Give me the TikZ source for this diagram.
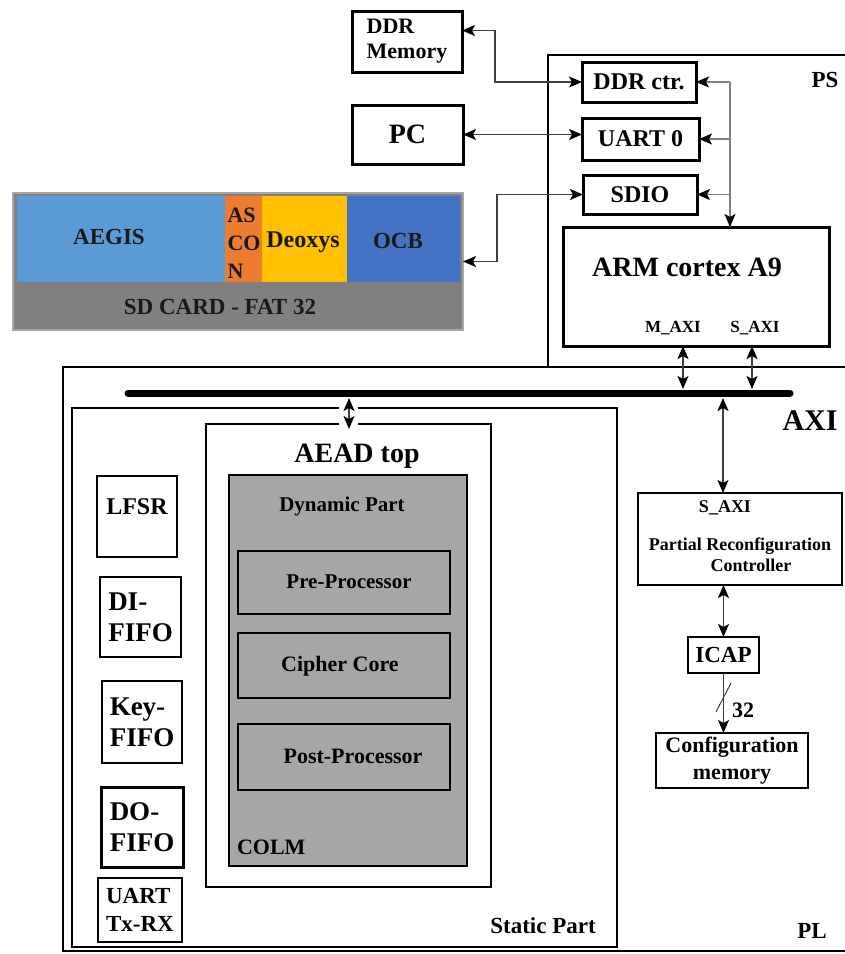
\documentclass[tikz,border=0pt]{standalone}
\usepackage{fontspec}
\setmainfont{Liberation Serif}
\usetikzlibrary{arrows.meta,calc}
\definecolor{aegisc}{HTML}{5B9BD5}
\definecolor{asconc}{HTML}{ED7D31}
\definecolor{deoxysc}{HTML}{FFC000}
\definecolor{ocbc}{HTML}{4472C4}
\definecolor{sdgray}{HTML}{808080}
\definecolor{dyngray}{HTML}{A6A6A6}
\tikzset{
  tipA/.tip={Stealth[length=13pt,width=11pt,inset=3pt,color=black]}
}
\begin{document}
\begin{tikzpicture}[x=1pt,y=-1pt,
  every node/.style={inner sep=0pt, outer sep=0pt},
  box/.style={draw, line width=#1, fill=white},
  box/.default=1pt,
  band/.style={fill=#1, draw=none},
  ft/.style={font=\fontsize{#1}{#1}\selectfont\bfseries},
  conn/.style={draw=black!75, line width=1.4pt},
  bi/.style={conn, tipA-tipA},
  uni/.style={conn, -tipA}
]
\useasboundingbox (0,0) rectangle (845,954);

% ---------- PS and PL regions ----------
\draw[line width=1.5pt] (846,55) -- (548,55) -- (548,367);
\draw[line width=1.5pt] (846,367) -- (63,367) -- (63,951) -- (846,951);
\node[ft=23] (pslbl) at (825,80) {PS};
\node[ft=23] (pllbl) at (812,931) {PL};

% ---------- external boxes ----------
\node[box=3pt, minimum width=110pt, minimum height=61pt, align=left, font=\fontsize{22}{25}\selectfont\bfseries] (ddrmem) at (407,41.5) {DDR\\Memory};
\node[box=3pt, minimum width=111pt, minimum height=59pt, ft=28] (pc) at (407.5,134.5) {PC};

% ---------- SD card ----------
\node[draw=black!35, line width=1.5pt, fill=sdgray, minimum width=450pt, minimum height=137pt] (sd) at (238,261.5) {};
\node[band=aegisc, minimum width=208pt, minimum height=86pt] (aegis) at (121,239) {};
\node[band=asconc, minimum width=37pt, minimum height=86pt] (ascon) at (243.5,239) {};
\node[band=deoxysc, minimum width=85pt, minimum height=86pt] (deoxys) at (304.5,239) {};
\node[band=ocbc, minimum width=113pt, minimum height=86pt] (ocb) at (403.5,239) {};
\node[ft=23, text=black!90] (aegist) at (109,237) {AEGIS};
\node[align=left, font=\fontsize{22}{28}\selectfont\bfseries, text=black!90] (ascont) at (244,243) {AS\\CO\\N};
\node[ft=24, text=black!90] (deoxyst) at (303,242) {Deoxys};
\node[ft=23, text=black!90] (ocbt) at (398,241) {OCB};
\node[ft=23, text=black!90] (sdt) at (220,307) {SD CARD - FAT 32};

% ---------- PS internals ----------
\node[box=3pt, minimum width=114pt, minimum height=40pt, ft=24] (ddrctr) at (639,82) {DDR ctr.};
\node[box=3pt, minimum width=117pt, minimum height=42pt, ft=24] (uart0) at (640.5,139) {UART 0};
\node[box=3pt, minimum width=114pt, minimum height=39pt, ft=24] (sdio) at (640,194.5) {SDIO};
\node[box=3pt, minimum width=266pt, minimum height=119pt] (arm) at (696,286.5) {};
\node[ft=28] (armt) at (687,267) {ARM cortex A9};
\node[ft=17] (maxi) at (673,328) {M\_AXI};
\node[ft=17] (saxi) at (755,328) {S\_AXI};

\coordinate (vbx) at (730,0);
\coordinate (ddrbend) at (495,0);
\coordinate (sdbend) at (497,0);

% connectors outside / PS
\draw[bi] ([yshift=11pt]ddrmem.east) -| (ddrbend |- ddrctr.west) -- (ddrctr.west);
\draw[bi] (pc.east) -- (pc.east -| uart0.west);
\draw[bi] (sd.east) -| (sdbend |- sdio.west) -- (sdio.west);
\draw[conn,draw=black!50] (ddrctr.east -| vbx) -- (arm.north -| vbx);
\draw[uni,draw=black!50] (ddrctr.east -| vbx) -- (ddrctr.east);
\draw[uni,draw=black!50] (uart0.east -| vbx) -- (uart0.east);
\draw[uni,draw=black!50] (sdio.east -| vbx) -- (sdio.east);
\draw[uni,draw=black!50] (sdio.east -| vbx) -- (arm.north -| vbx);

% ---------- PL ----------
\node[box=1.2pt, minimum width=545pt, minimum height=539pt] (static) at (344.5,677.5) {};
\node[ft=23] (statict) at (543,926) {Static Part};

\node[box=1.2pt, minimum width=285pt, minimum height=463pt] (aead) at (348.5,655.5) {};
\node[ft=28] (aeadt) at (357,456) {AEAD top};
\node[draw, line width=1.2pt, fill=dyngray, minimum width=238pt, minimum height=391pt] (dyn) at (348,670.5) {};
\node[ft=21] (dynt) at (342,506) {Dynamic Part};
\node[draw, line width=1.2pt, fill=dyngray, minimum width=212pt, minimum height=63pt] (pre) at (344,582.5) {};
\node[ft=21] (pret) at (349,582) {Pre-Processor};
\node[draw, line width=1.2pt, fill=dyngray, minimum width=212pt, minimum height=65pt] (ciph) at (344,665.5) {};
\node[ft=22] (cipht) at (340,666) {Cipher Core};
\node[draw, line width=1.2pt, fill=dyngray, minimum width=212pt, minimum height=66pt] (post) at (344,757) {};
\node[ft=22] (postt) at (353,756) {Post-Processor};
\node[ft=22, anchor=west] (colm) at (237,847) {COLM};

\node[box=2pt, minimum width=80pt, minimum height=81pt] (lfsr) at (137,516.5) {};
\node[ft=24] (lfsrt) at (137,507) {LFSR};
\node[box=2.5pt, minimum width=81pt, minimum height=80pt, align=left, font=\fontsize{27}{31}\selectfont\bfseries] (difi) at (140.5,617) {DI-\\FIFO};
\node[box=2.5pt, minimum width=80pt, minimum height=82pt, align=left, font=\fontsize{27}{31}\selectfont\bfseries] (keyfi) at (142,722) {Key-\\FIFO};
\node[box=3pt, minimum width=82pt, minimum height=80pt, align=left, font=\fontsize{27}{31}\selectfont\bfseries] (dofi) at (142,827) {DO-\\FIFO};
\node[box=1.5pt, minimum width=84pt, minimum height=64pt, align=left, font=\fontsize{23}{28}\selectfont\bfseries] (uarttx) at (140,910) {UART\\Tx-RX};

% PR controller chain
\node[box=1.2pt, minimum width=204pt, minimum height=92pt] (prc) at (740,539) {};
\node[ft=18] (prcsaxi) at (725,508) {S\_AXI};
\node[align=center, font=\fontsize{18}{21}\selectfont\bfseries] (prct) at (740,555) {Partial Reconfiguration\\\hspace*{22pt}Controller};
\node[box=1.2pt, minimum width=71pt, minimum height=36pt, ft=23] (icap) at (723.5,655) {ICAP};
\node[box=1.2pt, minimum width=152pt, minimum height=55pt, align=center, font=\fontsize{22}{27}\selectfont\bfseries] (cfg) at (732,760.5) {Configuration\\memory};

% ---------- AXI bus ----------
\coordinate (busL) at (128,393);
\coordinate (busR) at (790,393);
\coordinate (busa) at (0,389);
\coordinate (busb) at (0,398);
\draw[line width=7pt, line cap=round] (busL) -- (busR);
\node[ft=30] (axit) at (810,421) {AXI};

\coordinate (mx) at (683,0);
\coordinate (sx) at (752,0);
\draw[bi] (arm.south -| mx) -- (busa -| mx);
\draw[bi] (arm.south -| sx) -- (busa -| sx);

\coordinate (ax) at (349,0);
\fill[white] (339,400) rectangle (358,429);
\draw[bi] (busb -| ax) -- ([yshift=-5pt]aead.north -| ax);

\coordinate (px) at (723,0);
\draw[bi] (busb -| px) -- (prc.north -| px);
\draw[bi] (prc.south -| icap.north) -- (icap.north);
\draw[uni] (icap.south) -- (icap.south |- cfg.north);
\coordinate (sl1) at (716,712);
\coordinate (sl2) at (731,683);
\draw[line width=1pt, black!75] (sl1) -- (sl2);
\node[ft=22] (w32) at (743,710) {32};
\end{tikzpicture}
\end{document}
